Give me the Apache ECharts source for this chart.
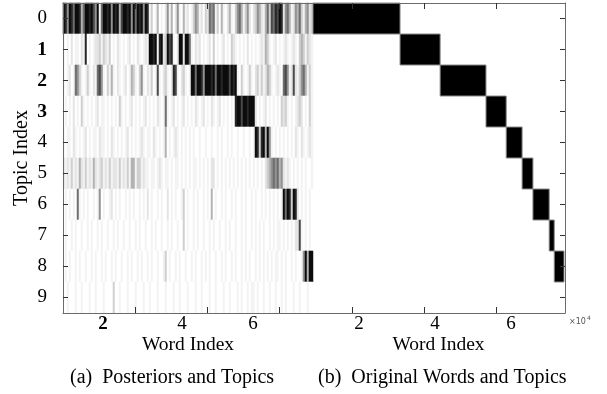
<!DOCTYPE html>
<html>
<head>
<meta charset="utf-8">
<script src="https://cdn.jsdelivr.net/npm/echarts@6/dist/echarts.min.js"></script>
<style>html,body{margin:0;padding:0;background:#fff;}#c{width:607px;height:394px;}</style>
</head>
<body>
<div id="c"></div>
<script>
// ---- data ----
const topics = ['0','1','2','3','4','5','6','7','8','9'];
const boldTopics = ['1','2','3'];
// posterior darkness per word bin (0 = white ... 9 = black), 125 bins per topic
const posteriorRows = [
  '9859869984'+'6998975916'+'9989598947'+'9989596989'+'5981301401'+'0251402510'+'4120135412'+'0326561304'+'1024103564'+'1352023542'+'1463768798'+'2564125463'+'14523',
  '1010201102'+'1801012231'+'3213010210'+'1012010210'+'1219989189'+'2397810299'+'2996102120'+'1012030101'+'2010321010'+'1020101012'+'1431012010'+'1210121034'+'31321',
  '1012016531'+'0131021675'+'1031410210'+'1201431035'+'1021301710'+'2310287102'+'3101996998'+'5999896998'+'9997989103'+'1013102313'+'1243101210'+'6751272135'+'64131',
  '0101020103'+'1010101201'+'1010101031'+'0101201010'+'1201010210'+'1610120101'+'2010102101'+'2010210120'+'1010108997'+'9989992010'+'1201010103'+'2310101232'+'01031',
  '1011021010'+'1201011021'+'1010210101'+'0120101012'+'1011021010'+'1401012101'+'0101010010'+'0100100101'+'0010100100'+'1001019838'+'9495101010'+'1010102102'+'10121',
  '2121312142'+'1312142123'+'1213122131'+'2131441331'+'2110110121'+'0110101101'+'0101011010'+'1010220101'+'0101010101'+'0101010101'+'0234565645'+'2121010101'+'01001',
  '0101010610'+'1010010150'+'1001201010'+'0101010010'+'1020100101'+'0020101001'+'3010010100'+'1010401001'+'0100101001'+'0100101001'+'0101010101'+'9698398201'+'01010',
  '0100101001'+'0010100101'+'0010010100'+'1001001010'+'0100101001'+'0010100100'+'3010010100'+'1001010010'+'0101001001'+'0100101010'+'1001010110'+'1010102271'+'01010',
  '0101001010'+'0100101001'+'0100101001'+'0010100101'+'0010100100'+'1301001010'+'0100101001'+'0101001001'+'0100101001'+'0101001010'+'1010101101'+'0100101001'+'59499',
  '0010001001'+'0001001000'+'1000030010'+'0010001000'+'1001000100'+'0100010010'+'0010001001'+'0001001000'+'1001000101'+'0010110100'+'1001001001'+'0100010010'+'00100'
];
// original word ranges per topic (word index boundaries)
const topicBoundaries = [0, 24100, 35200, 47900, 53500, 57900, 60900, 65400, 66800, 69500, 69500];
const panelWords = 69500;
const frameWords = 139000;
const tickValues = [20000, 40000, 60000, 80000, 100000, 120000];
const tickLabels = ['2', '4', '6', '2', '4', '6'];
const labelValues = [11076, 32952, 52610, 81960, 103004, 124048];

// ---- build ----
const nBins = posteriorRows[0].length;
const bins = [];
for (let i = 0; i < nBins; i++) bins.push(String(i));
const heat = [];
posteriorRows.forEach((row, r) => {
  for (let i = 0; i < row.length; i++) heat.push([i, r, +row[i]]);
});
const blocks = [];
for (let k = 0; k < topics.length; k++) {
  if (topicBoundaries[k + 1] > topicBoundaries[k]) blocks.push([topicBoundaries[k], topicBoundaries[k + 1], k]);
}

const FF = 'Liberation Serif';
const frameLine = { show: true, onZero: false, lineStyle: { color: '#6b6b6b', width: 1 } };
const tickStyle = { color: '#333', width: 1 };
const grayRamp = ['#ffffff', '#f3f3f3', '#e4e4e4', '#cfcfcf', '#b3b3b3', '#929292', '#6e6e6e', '#494949', '#272727', '#0c0c0c'];

const chart = echarts.init(document.getElementById('c'), null, { renderer: 'canvas' });
chart.setOption({
  animation: false,
  backgroundColor: '#ffffff',
  grid: [
    { left: 63, top: 3, width: 502, height: 310 },
    { left: 63, top: 3, width: 250, height: 310 },
    { left: 313, top: 3, width: 251, height: 310 }
  ],
  xAxis: [
    {
      gridIndex: 0, type: 'value', min: 0, max: frameWords, interval: 20000, position: 'bottom', z: 10,
      axisLine: frameLine, splitLine: { show: false },
      axisTick: { show: true, inside: true, length: 6, customValues: tickValues, lineStyle: tickStyle },
      axisLabel: {
        customValues: labelValues, margin: 2,
        formatter: function (v) {
          const i = labelValues.indexOf(v);
          const t = i >= 0 ? tickLabels[i] : '';
          return i === 0 ? '{b|' + t + '}' : '{n|' + t + '}';
        },
        rich: {
          n: { fontFamily: FF, fontSize: 19, color: '#000' },
          b: { fontFamily: FF, fontSize: 19, fontWeight: 'bold', color: '#000' }
        }
      }
    },
    {
      gridIndex: 0, type: 'value', min: 0, max: frameWords, interval: 20000, position: 'top', z: 10,
      axisLine: frameLine, splitLine: { show: false },
      axisTick: { show: true, inside: true, length: 6, customValues: tickValues, lineStyle: tickStyle },
      axisLabel: { show: false }
    },
    {
      gridIndex: 1, type: 'category', data: bins, boundaryGap: true,
      axisLine: { show: false }, axisTick: { show: false }, axisLabel: { show: false }, splitLine: { show: false },
      name: 'Word Index', nameLocation: 'middle', nameGap: 22,
      nameTextStyle: { fontFamily: FF, fontSize: 19.5, color: '#000' }
    },
    {
      gridIndex: 2, type: 'value', min: 0, max: panelWords,
      axisLine: { show: false }, axisTick: { show: false }, axisLabel: { show: false }, splitLine: { show: false },
      name: 'Word Index', nameLocation: 'middle', nameGap: 22,
      nameTextStyle: { fontFamily: FF, fontSize: 19.5, color: '#000' }
    }
  ],
  yAxis: [
    {
      gridIndex: 0, type: 'category', data: topics, inverse: true, z: 10,
      axisLine: frameLine,
      axisTick: { show: true, inside: true, alignWithLabel: true, length: 5, lineStyle: tickStyle },
      axisLabel: {
        margin: 16,
        formatter: function (v) { return boldTopics.indexOf(v) >= 0 ? '{b|' + v + '}' : '{n|' + v + '}'; },
        rich: {
          n: { fontFamily: FF, fontSize: 19, color: '#000' },
          b: { fontFamily: FF, fontSize: 19.5, fontWeight: 'bold', color: '#000' }
        }
      },
      name: 'Topic Index', nameLocation: 'middle', nameGap: 31, nameRotate: 90, nameMoveOverlap: false,
      nameTextStyle: { fontFamily: FF, fontSize: 20, color: '#000' }
    },
    {
      gridIndex: 0, type: 'category', data: topics, inverse: true, position: 'right', z: 10,
      axisLine: frameLine,
      axisTick: { show: true, inside: true, alignWithLabel: true, length: 5, lineStyle: tickStyle },
      axisLabel: { show: false }
    },
    { gridIndex: 1, type: 'category', data: topics, inverse: true, show: false },
    { gridIndex: 2, type: 'category', data: topics, inverse: true, show: false }
  ],
  visualMap: {
    type: 'piecewise', show: false, seriesIndex: 0, dimension: 2,
    pieces: grayRamp.map(function (c, i) { return { value: i, color: c }; })
  },
  series: [
    {
      type: 'heatmap', xAxisIndex: 2, yAxisIndex: 2, data: heat, progressive: 0,
      itemStyle: { borderWidth: 0 }, emphasis: { disabled: true }
    },
    {
      type: 'custom', xAxisIndex: 3, yAxisIndex: 3, data: blocks,
      encode: { x: [0, 1], y: 2 },
      renderItem: function (params, api) {
        const a = api.coord([api.value(0), api.value(2)]);
        const b = api.coord([api.value(1), api.value(2)]);
        const h = api.size([0, 1])[1];
        return {
          type: 'rect',
          shape: { x: a[0], y: a[1] - h / 2, width: b[0] - a[0], height: h },
          style: { fill: '#000000', stroke: '#8a8a8a', lineWidth: 1 }
        };
      }
    }
  ],
  graphic: [
    { type: 'text', left: 569, top: 318, style: { text: '×10', fontFamily: 'DejaVu Sans', fontSize: 8, fill: '#555' } },
    { type: 'text', left: 587, top: 315, style: { text: '4', fontFamily: 'DejaVu Sans', fontSize: 6, fill: '#555' } },
    { type: 'text', x: 70, y: 378, style: { text: '(a)  Posteriors and Topics', fontFamily: FF, fontSize: 20, fill: '#000', align: 'left', verticalAlign: 'middle' } },
    { type: 'text', x: 318, y: 378, style: { text: '(b)  Original Words and Topics', fontFamily: FF, fontSize: 20, fill: '#000', align: 'left', verticalAlign: 'middle' } }
  ]
});
</script>
</body>
</html>
